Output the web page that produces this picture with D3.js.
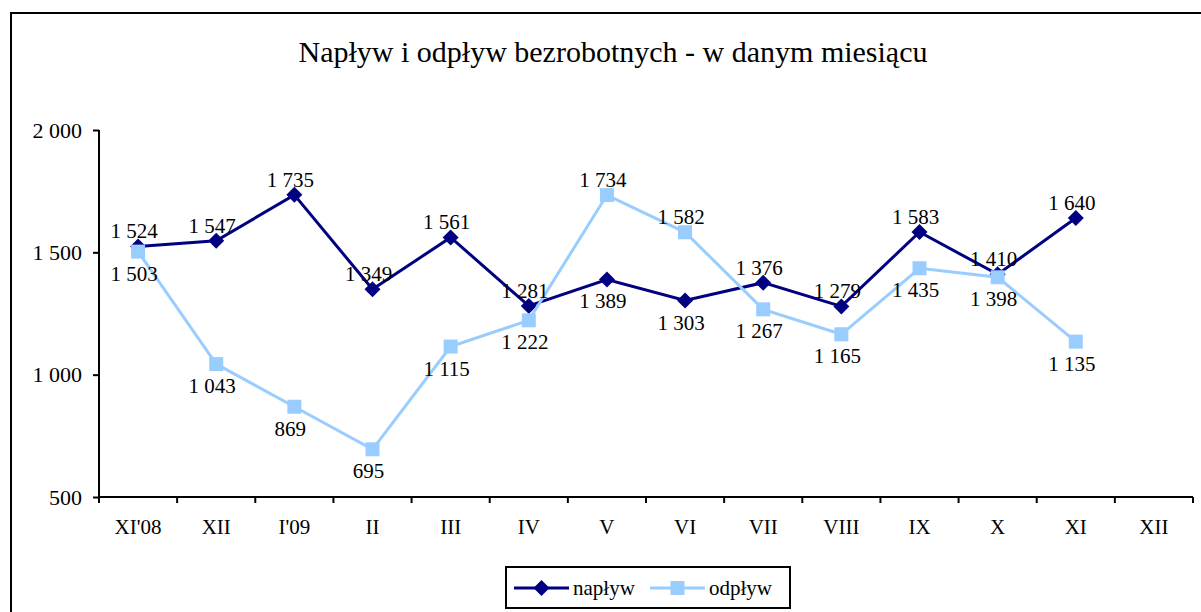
<!DOCTYPE html>
<html>
<head>
<meta charset="utf-8">
<script src="https://cdn.jsdelivr.net/npm/d3@7"></script>
<style>
  body { margin: 0; background: #fff; }
  svg text { font-family: "Liberation Serif", "Times New Roman", serif; }
</style>
</head>
<body>
<script>
var width = 1201,
  height = 612;

var title = "Napływ i odpływ bezrobotnych - w danym miesiącu";

var months = ["XI'08", "XII", "I'09", "II", "III", "IV", "V", "VI", "VII", "VIII", "IX", "X", "XI", "XII"];

var naplyw = [1524, 1547, 1735, 1349, 1561, 1281, 1389, 1303, 1376, 1279, 1583, 1410, 1640];
var odplyw = [1503, 1043, 869, 695, 1115, 1222, 1734, 1582, 1267, 1165, 1435, 1398, 1135];

// where the value label sits: a = above, b = below
var naplywLabelPos = ["a", "a", "a", "a", "a", "a", "b", "b", "a", "a", "a", "a", "a"];
var odplywLabelPos = ["b", "b", "b", "b", "b", "b", "a", "a", "b", "b", "b", "b", "b"];

var yTicks = [500, 1000, 1500, 2000];

var serif = "Liberation Serif, Times New Roman, serif";

var formatNumber = function(d) {
  return d3.format(",")(d).replace(/,/g, " ");
};

var plotLeft = 99,
  plotRight = 1193;

var x = d3.scaleBand()
  .domain(months.map(function(d, i) { return i; }))
  .range([plotLeft, plotRight])
  .padding(0);

var y = d3.scaleLinear()
  .domain([500, 2000])
  .range([497, 130]);

var svg = d3.select("body").append("svg")
  .attr("width", width)
  .attr("height", height)
  .style("display", "block");

svg.append("rect")
  .attr("x", 11)
  .attr("y", 13)
  .attr("width", 1300)
  .attr("height", 700)
  .attr("fill", "#fff")
  .attr("stroke", "#000")
  .attr("stroke-width", 2);

svg.append("text")
  .attr("x", 613)
  .attr("y", 62)
  .attr("text-anchor", "middle")
  .attr("font-family", serif)
  .attr("font-size", "30px")
  .text(title);

// y axis
var yAxis = d3.axisLeft(y)
  .tickValues(yTicks)
  .tickSize(6)
  .tickPadding(11)
  .tickFormat(formatNumber);

var yG = svg.append("g")
  .attr("transform", "translate(" + plotLeft + ",0)")
  .call(yAxis);

// x axis, ticks sit on category boundaries
var xAxis = d3.axisBottom(x)
  .tickSize(0)
  .tickPadding(22)
  .tickFormat(function(i) { return months[i]; });

var xG = svg.append("g")
  .attr("transform", "translate(0," + y(500) + ")")
  .call(xAxis);

xG.selectAll(".boundary")
  .data(d3.range(months.length + 1))
  .enter().append("line")
    .attr("class", "boundary")
    .attr("x1", function(i) { return plotLeft + i * x.step(); })
    .attr("x2", function(i) { return plotLeft + i * x.step(); })
    .attr("y1", 0)
    .attr("y2", 6)
    .attr("stroke", "#000")
    .attr("stroke-width", 2);

[yG, xG].forEach(function(g) {
  g.selectAll(".domain").attr("stroke", "#000").attr("stroke-width", 2);
  g.selectAll(".tick line").attr("stroke", "#000").attr("stroke-width", 2);
  g.selectAll("text")
    .attr("font-family", serif)
    .attr("fill", "#000");
});
yG.selectAll("text").attr("font-size", "22px");
xG.selectAll("text").attr("font-size", "21px");
yG.select(".domain").attr("d", "M0," + y(500) + "V" + y(2000));
xG.select(".domain").attr("d", "M" + plotLeft + ",0H" + plotRight);

function cx(i) { return x(i) + x.bandwidth() / 2; }

var line = d3.line()
  .x(function(d, i) { return cx(i); })
  .y(function(d) { return y(d); });

var series = [
  { name: "napływ", values: naplyw, pos: naplywLabelPos, color: "#000080", marker: "diamond" },
  { name: "odpływ", values: odplyw, pos: odplywLabelPos, color: "#99CCFF", marker: "square" }
];

function markerPath(s) {
  if (s.marker === "diamond") {
    return "M0,-8L8,0L0,8L-8,0Z";
  }
  return d3.symbol().type(d3.symbolSquare).size(196)();
}

series.forEach(function(s) {
  svg.append("path")
    .datum(s.values)
    .attr("fill", "none")
    .attr("stroke", s.color)
    .attr("stroke-width", 3)
    .attr("d", line);

  svg.append("g").selectAll("path")
    .data(s.values)
    .enter().append("path")
      .attr("transform", function(d, i) { return "translate(" + cx(i) + "," + y(d) + ")"; })
      .attr("d", markerPath(s))
      .attr("fill", s.color);
});

series.forEach(function(s) {
  svg.append("g").selectAll("text")
    .data(s.values)
    .enter().append("text")
      .attr("x", function(d, i) { return cx(i) - 4; })
      .attr("y", function(d, i) { return y(d) + (s.pos[i] === "a" ? -8 : 29); })
      .attr("text-anchor", "middle")
      .attr("font-family", serif)
      .attr("font-size", "21px")
      .attr("fill", "#000")
      .text(formatNumber);
});

// legend
var legend = svg.append("g").attr("transform", "translate(506,567)");

legend.append("rect")
  .attr("width", 284)
  .attr("height", 41)
  .attr("fill", "#fff")
  .attr("stroke", "#000")
  .attr("stroke-width", 2);

var legendItems = legend.selectAll(".item")
  .data(series)
  .enter().append("g")
    .attr("class", "item")
    .attr("transform", function(d, i) { return "translate(" + (8 + i * 136) + ",21)"; });

legendItems.append("line")
  .attr("x1", 0)
  .attr("x2", 55)
  .attr("stroke", function(d) { return d.color; })
  .attr("stroke-width", 3);

legendItems.append("path")
  .attr("transform", "translate(27.5,0)")
  .attr("d", function(d) { return markerPath(d); })
  .attr("fill", function(d) { return d.color; });

legendItems.append("text")
  .attr("x", 59)
  .attr("y", 7)
  .attr("font-family", serif)
  .attr("font-size", "21px")
  .attr("fill", "#000")
  .text(function(d) { return d.name; });
</script>
</body>
</html>
